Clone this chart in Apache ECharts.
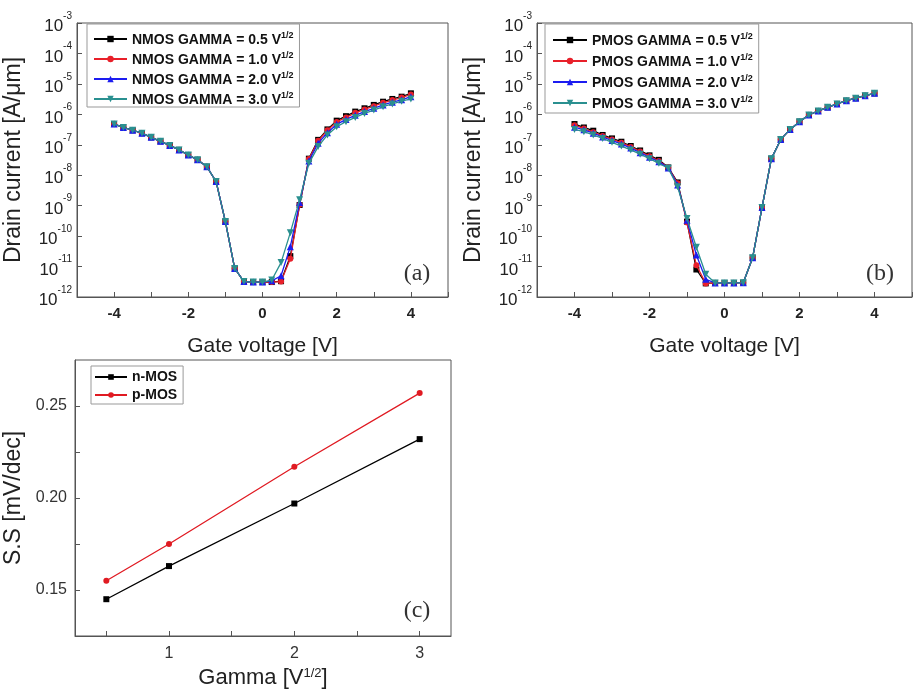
<!DOCTYPE html>
<html>
<head>
<meta charset="utf-8">
<script src="https://cdn.jsdelivr.net/npm/echarts@6/dist/echarts.min.js"></script>
<style>html,body{margin:0;padding:0;background:#fff}#c{width:919px;height:699px}</style>
</head>
<body>
<div id="c"></div>
<script>
// ---- data ----
const gateVoltage = [-4,-3.75,-3.5,-3.25,-3,-2.75,-2.5,-2.25,-2,-1.75,-1.5,-1.25,-1,-0.75,-0.5,-0.25,0,0.25,0.5,0.75,1,1.25,1.5,1.75,2,2.25,2.5,2.75,3,3.25,3.5,3.75,4];

const nmosNames = ['NMOS GAMMA = 0.5','NMOS GAMMA = 1.0','NMOS GAMMA = 2.0','NMOS GAMMA = 3.0'];
const pmosNames = ['PMOS GAMMA = 0.5','PMOS GAMMA = 1.0','PMOS GAMMA = 2.0','PMOS GAMMA = 3.0'];

const nmos05 = [4.8e-7,3.7e-7,3.0e-7,2.4e-7,1.76e-7,1.3e-7,9.5e-8,6.8e-8,4.6e-8,3.2e-8,1.9e-8,6.2e-9,3.0e-10,8.7e-12,3.2e-12,3.1e-12,3.1e-12,
  3.1e-12,3.3e-12,2.2e-11,1.05e-9,3.5e-8,1.45e-7,3.2e-7,6.2e-7,8.7e-7,1.23e-6,1.58e-6,2.04e-6,2.6e-6,3.2e-6,3.8e-6,4.9e-6];
const nmos10 = [4.8e-7,3.7e-7,3.0e-7,2.4e-7,1.76e-7,1.3e-7,9.5e-8,6.8e-8,4.6e-8,3.2e-8,1.9e-8,6.2e-9,3.0e-10,8.7e-12,3.2e-12,3.1e-12,3.1e-12,
  3.1e-12,3.2e-12,1.8e-11,1.07e-9,3.4e-8,1.35e-7,3.0e-7,5.6e-7,7.9e-7,1.12e-6,1.45e-6,1.86e-6,2.4e-6,2.95e-6,3.55e-6,4.5e-6];
const nmos20 = [4.8e-7,3.7e-7,3.0e-7,2.4e-7,1.76e-7,1.3e-7,9.5e-8,6.8e-8,4.6e-8,3.2e-8,1.9e-8,6.2e-9,3.0e-10,8.7e-12,3.2e-12,3.1e-12,3.1e-12,
  3.4e-12,5.0e-12,4.5e-11,1.26e-9,2.95e-8,1.12e-7,2.5e-7,4.7e-7,6.8e-7,9.3e-7,1.23e-6,1.58e-6,2.04e-6,2.5e-6,3.0e-6,3.8e-6];
const nmos30 = [4.8e-7,3.7e-7,3.0e-7,2.4e-7,1.76e-7,1.3e-7,9.5e-8,6.8e-8,4.6e-8,3.2e-8,1.9e-8,6.2e-9,3.0e-10,8.7e-12,3.2e-12,3.1e-12,3.1e-12,
  3.6e-12,1.35e-11,1.3e-10,1.55e-9,2.45e-8,8.7e-8,2.1e-7,3.9e-7,5.75e-7,7.9e-7,1.07e-6,1.38e-6,1.78e-6,2.2e-6,2.7e-6,3.2e-6];

const pmos05 = [4.8e-7,3.7e-7,2.9e-7,2.1e-7,1.62e-7,1.26e-7,9.1e-8,6.5e-8,4.5e-8,3.2e-8,1.8e-8,5.8e-9,3.0e-10,8.0e-12,2.8e-12,2.9e-12,2.9e-12,
  2.9e-12,2.95e-12,1.95e-11,8.7e-10,3.5e-8,1.5e-7,3.2e-7,5.75e-7,9.5e-7,1.29e-6,1.7e-6,2.2e-6,2.8e-6,3.4e-6,4.1e-6,4.9e-6];
const pmos10 = [4.4e-7,3.4e-7,2.6e-7,1.95e-7,1.5e-7,1.17e-7,8.5e-8,6.0e-8,4.2e-8,2.95e-8,1.78e-8,5.4e-9,2.8e-10,1.1e-11,2.8e-12,2.9e-12,2.9e-12,
  2.9e-12,2.95e-12,1.95e-11,8.7e-10,3.5e-8,1.5e-7,3.2e-7,5.75e-7,9.5e-7,1.29e-6,1.7e-6,2.2e-6,2.8e-6,3.4e-6,4.1e-6,4.9e-6];
const pmos20 = [3.8e-7,3.1e-7,2.4e-7,1.8e-7,1.38e-7,1.07e-7,7.8e-8,5.5e-8,3.9e-8,2.75e-8,1.74e-8,4.8e-9,3.3e-10,2.4e-11,3.8e-12,2.9e-12,2.9e-12,
  2.9e-12,2.95e-12,1.95e-11,8.7e-10,3.5e-8,1.5e-7,3.2e-7,5.75e-7,9.5e-7,1.29e-6,1.7e-6,2.2e-6,2.8e-6,3.4e-6,4.1e-6,4.9e-6];
const pmos30 = [3.2e-7,2.7e-7,2.1e-7,1.62e-7,1.2e-7,9.1e-8,6.8e-8,4.9e-8,3.5e-8,2.45e-8,1.7e-8,4.2e-9,3.8e-10,4.3e-11,5.6e-12,2.9e-12,2.9e-12,
  2.9e-12,2.95e-12,1.95e-11,8.7e-10,3.5e-8,1.5e-7,3.2e-7,5.75e-7,9.5e-7,1.29e-6,1.7e-6,2.2e-6,2.8e-6,3.4e-6,4.1e-6,4.9e-6];

const gammaValues = [0.5, 1, 2, 3];
const ssNmos = [0.145, 0.163, 0.197, 0.232];
const ssPmos = [0.155, 0.175, 0.217, 0.257];
const ssNames = ['n-MOS', 'p-MOS'];

const gateTickLabels = [-4, -2, 0, 2, 4];
const gammaTicks = [0.5, 1, 1.5, 2, 2.5, 3];
const gammaTickLabels = [1, 2, 3];
const ssTicks = [0.15, 0.175, 0.2, 0.225, 0.25];
const ssTickLabels = [0.15, 0.2, 0.25];

// ---- styling helpers ----
const colors = ['#000000', '#e8202a', '#1c1cf0', '#2a9090'];
const symbols = ['rect', 'circle', 'triangle', 'triangle'];
const rotates = [0, 0, 0, 180];
const symSizes = [6, 6, 7, 7];
const axisColor = '#555';
const FONT = 'Arial, "Liberation Sans", sans-serif';

function pairs(xs, ys) { return xs.map((x, i) => [x, ys[i]]); }

function curveSeries(names, arrays, axisIdx) {
  return arrays.map((arr, i) => ({
    name: names[i], type: 'line', xAxisIndex: axisIdx, yAxisIndex: axisIdx,
    data: pairs(gateVoltage, arr),
    symbol: symbols[i], symbolRotate: rotates[i], symbolSize: symSizes[i],
    showSymbol: true, animation: false, z: 2 + i,
    itemStyle: { color: colors[i] },
    lineStyle: { color: colors[i], width: 1.3 }
  }));
}

function logYAxis(idx) {
  return {
    gridIndex: idx, type: 'log', logBase: 10, min: 1e-12, max: 1e-3, interval: 1,
    axisLine: { show: true, onZero: false, lineStyle: { color: axisColor, width: 1 } },
    axisTick: { show: true, inside: true, length: 5, lineStyle: { color: axisColor } },
    minorTick: { show: false },
    splitLine: { show: false },
    axisLabel: {
      margin: 5, color: '#222', fontFamily: FONT,
      formatter: function (v) { const e = Math.round(Math.log10(v)); return '{b|10}{s|' + e + '}'; },
      rich: {
        b: { fontSize: 17, fontFamily: FONT, color: '#222', lineHeight: 24, verticalAlign: 'bottom' },
        s: { fontSize: 10, fontFamily: FONT, color: '#222', lineHeight: 10, verticalAlign: 'top' }
      }
    },
    name: 'Drain current [A/\u03bcm]', nameLocation: 'middle', nameGap: 52,
    nameTextStyle: { fontSize: 23, color: '#222', fontFamily: FONT }
  };
}

function gateXAxis(idx) {
  return {
    gridIndex: idx, type: 'value', min: -5, max: 5, interval: 1,
    axisLine: { show: true, onZero: false, lineStyle: { color: axisColor, width: 1 } },
    axisTick: { show: true, inside: true, length: 5, lineStyle: { color: axisColor } },
    splitLine: { show: false },
    axisLabel: { customValues: gateTickLabels, fontSize: 15, fontWeight: 'bold', color: '#222', margin: 9, fontFamily: FONT },
    name: 'Gate voltage [V]', nameLocation: 'middle', nameGap: 39,
    nameTextStyle: { fontSize: 21, color: '#222', fontFamily: FONT }
  };
}

function legendFor(names, left, top, itemGap, padding, itemW) {
  return {
    orient: 'vertical', left: left, top: top, data: names,
    itemWidth: itemW, itemHeight: 8, itemGap: itemGap, padding: padding,
    backgroundColor: '#fff', borderColor: '#999', borderWidth: 1, borderRadius: 0,
    selectedMode: false,
    formatter: function (n) { return '{t|' + n + ' V}{s|1/2}'; },
    textStyle: {
      rich: {
        t: { fontSize: 14, fontWeight: 'bold', color: '#111', fontFamily: FONT, lineHeight: 16, verticalAlign: 'bottom' },
        s: { fontSize: 9, fontWeight: 'bold', color: '#111', fontFamily: FONT, lineHeight: 9, verticalAlign: 'top' }
      }
    }
  };
}

const option = {
  backgroundColor: '#fff',
  animation: false,
  grid: [
    { left: 77, top: 23, width: 371, height: 274, show: true, borderColor: axisColor, borderWidth: 1, containLabel: false },
    { left: 537, top: 23, width: 375, height: 274, show: true, borderColor: axisColor, borderWidth: 1, containLabel: false },
    { left: 75, top: 360, width: 376, height: 276, show: true, borderColor: axisColor, borderWidth: 1, containLabel: false }
  ],
  xAxis: [
    gateXAxis(0),
    gateXAxis(1),
    {
      gridIndex: 2, type: 'value', min: 0.25, max: 3.25,
      axisLine: { show: true, onZero: false, lineStyle: { color: axisColor, width: 1 } },
      axisTick: { show: true, inside: true, length: 5, customValues: gammaTicks, lineStyle: { color: axisColor } },
      splitLine: { show: false },
      axisLabel: { customValues: gammaTickLabels, fontSize: 16, color: '#333', margin: 10, fontFamily: FONT },
      name: 'Gamma [V{s|1/2}]', nameLocation: 'middle', nameGap: 31,
      nameTextStyle: {
        fontSize: 22, color: '#222', fontFamily: FONT,
        rich: { s: { fontSize: 13, color: '#222', fontFamily: FONT, verticalAlign: 'top', lineHeight: 12 } }
      }
    }
  ],
  yAxis: [
    logYAxis(0),
    logYAxis(1),
    {
      gridIndex: 2, type: 'value', min: 0.125, max: 0.275,
      axisLine: { show: true, onZero: false, lineStyle: { color: axisColor, width: 1 } },
      axisTick: { show: true, inside: true, length: 5, customValues: ssTicks, lineStyle: { color: axisColor } },
      splitLine: { show: false },
      axisLabel: { customValues: ssTickLabels, fontSize: 16, color: '#333', margin: 8, fontFamily: FONT,
        formatter: function (v) { return v.toFixed(2); } },
      name: 'S.S [mV/dec]', nameLocation: 'middle', nameGap: 50,
      nameTextStyle: { fontSize: 23, color: '#222', fontFamily: FONT }
    }
  ],
  legend: [
    legendFor(nmosNames, 87, 24, 4, [7, 6, 0, 6], 33),
    legendFor(pmosNames, 545, 24, 5, [8, 6, 2, 7], 34),
    {
      orient: 'vertical', left: 91, top: 366, data: ssNames,
      itemWidth: 32, itemHeight: 7, itemGap: 2, padding: [3, 6, 1, 3],
      backgroundColor: '#fff', borderColor: '#999', borderWidth: 1, selectedMode: false,
      textStyle: { fontSize: 14, fontWeight: 'bold', color: '#111', fontFamily: FONT, lineHeight: 16 }
    }
  ],
  graphic: [
    { type: 'text', x: 417, y: 274, style: { text: '(a)', font: '24px "Liberation Serif", serif', fill: '#333', align: 'center', verticalAlign: 'middle' } },
    { type: 'text', x: 880, y: 274, style: { text: '(b)', font: '24px "Liberation Serif", serif', fill: '#333', align: 'center', verticalAlign: 'middle' } },
    { type: 'text', x: 417, y: 611, style: { text: '(c)', font: '24px "Liberation Serif", serif', fill: '#333', align: 'center', verticalAlign: 'middle' } }
  ],
  series: [
    ...curveSeries(nmosNames, [nmos05, nmos10, nmos20, nmos30], 0),
    ...curveSeries(pmosNames, [pmos05, pmos10, pmos20, pmos30], 1),
    {
      name: ssNames[0], type: 'line', xAxisIndex: 2, yAxisIndex: 2, data: pairs(gammaValues, ssNmos),
      symbol: 'rect', symbolSize: 6, itemStyle: { color: '#000' }, lineStyle: { color: '#000', width: 1.3 }
    },
    {
      name: ssNames[1], type: 'line', xAxisIndex: 2, yAxisIndex: 2, data: pairs(gammaValues, ssPmos),
      symbol: 'circle', symbolSize: 6, itemStyle: { color: '#e01a22' }, lineStyle: { color: '#e01a22', width: 1.3 }
    }
  ]
};

const chart = echarts.init(document.getElementById('c'), null, { renderer: 'canvas' });
chart.setOption(option);
</script>
</body>
</html>
